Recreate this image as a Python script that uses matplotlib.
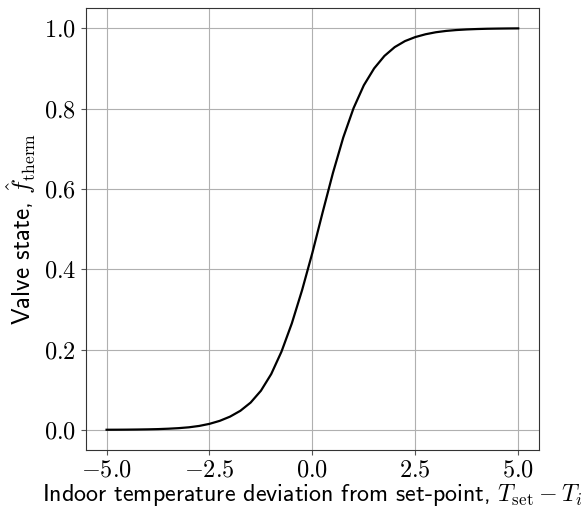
import matplotlib
matplotlib.use("Agg")
import matplotlib.pyplot as plt
from matplotlib.ticker import FuncFormatter, MultipleLocator

# Values
x_vals = [-5.0, -4.75, -4.5, -4.25, -4.0, -3.75, -3.5, -3.25, -3.0, -2.75, -2.5,
          -2.25, -2.0, -1.75, -1.5, -1.25, -1.0, -0.75, -0.5, -0.25, 0.0,
          0.25, 0.5, 0.75, 1.0, 1.25, 1.5, 1.75, 2.0, 2.25, 2.5,
          2.75, 3.0, 3.25, 3.5, 3.75, 4.0, 4.25, 4.5, 4.75, 5.0]
y_vals = [0.0003, 0.0004, 0.0006, 0.0009, 0.0013, 0.0019, 0.0029, 0.0043, 0.0064, 0.0098, 0.0150,
          0.0225, 0.0330, 0.0475, 0.0680, 0.0975, 0.1390, 0.1950, 0.2650, 0.3480, 0.4410,
          0.5420, 0.6400, 0.7280, 0.8010, 0.8580, 0.9000, 0.9310, 0.9530, 0.9680, 0.9780,
          0.9850, 0.9900, 0.9933, 0.9955, 0.9970, 0.9980, 0.9987, 0.9991, 0.9994, 0.9996]

xlabel = r"Indoor temperature deviation from set-point, $T_{\mathrm{set}} - T_i$"
ylabel = r"Valve state, $\hat{f}_{\mathrm{therm}}$"

plt.rcParams["mathtext.fontset"] = "cm"
plt.rcParams["font.family"] = ["cmss10", "DejaVu Sans"]
plt.rcParams["axes.formatter.use_mathtext"] = True

fig = plt.figure(figsize=(5.85, 5.09), dpi=100)
ax = fig.add_axes([0.147, 0.116, 0.774, 0.868])
ax.plot(x_vals, y_vals, color="black", linewidth=1.6, solid_joinstyle="round")
ax.set_xlim(-5.5, 5.5)
ax.set_ylim(-0.05, 1.05)
ax.xaxis.set_major_locator(MultipleLocator(2.5))
ax.yaxis.set_major_locator(MultipleLocator(0.2))
fmt = FuncFormatter(lambda v, p: r"$%.1f$" % v)
ax.xaxis.set_major_formatter(fmt)
ax.yaxis.set_major_formatter(fmt)
ax.tick_params(labelsize=17.5, color="#555555")
for s in ax.spines.values():
    s.set_color("#333333")
ax.grid(True, color="#b0b0b0", linewidth=0.8)
ax.set_xlabel(xlabel, fontsize=17.3, labelpad=0)
ax.set_ylabel(ylabel, fontsize=18, labelpad=4)
fig.savefig("out.png", dpi=100)
